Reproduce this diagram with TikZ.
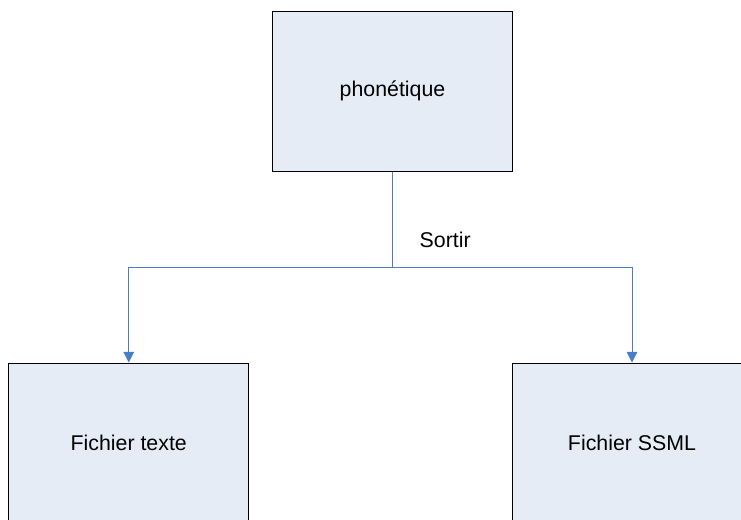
\documentclass[tikz,border=0pt]{standalone}
\usepackage{fontspec}
\setmainfont{Liberation Sans}
\usepackage{tikz}
\usetikzlibrary{arrows.meta}

\definecolor{boxfill}{HTML}{E6ECF6}
\definecolor{linkblue}{HTML}{4A7EC4}

\begin{document}
\begin{tikzpicture}[x=0.75pt, y=-0.75pt, >={Triangle[length=8pt, width=8pt]},
  box/.style={draw=black, fill=boxfill, line width=0.75pt, minimum width=180pt, minimum height=120pt, inner sep=0pt, font=\fontsize{16}{19}\selectfont},
  link/.style={draw=linkblue, line width=0.75pt}]
\useasboundingbox (0,0) rectangle (741,519);
\clip (0,0) rectangle (741,519);
\node[box] (phon) at (392.5,91) {phonétique};
\node[box] (txt) at (128.75,443) {Fichier texte};
\node[box] (ssml) at (632,443) {Fichier SSML};
\coordinate (split) at (392.5,267);
\node[anchor=west, font=\fontsize{16}{19}\selectfont] (out) at (415,240) {Sortir};
\draw[link] (phon.south) -- (split);
\draw[link, ->] (split) -| (txt.north);
\draw[link, ->] (split) -| (ssml.north);
\end{tikzpicture}
\end{document}
